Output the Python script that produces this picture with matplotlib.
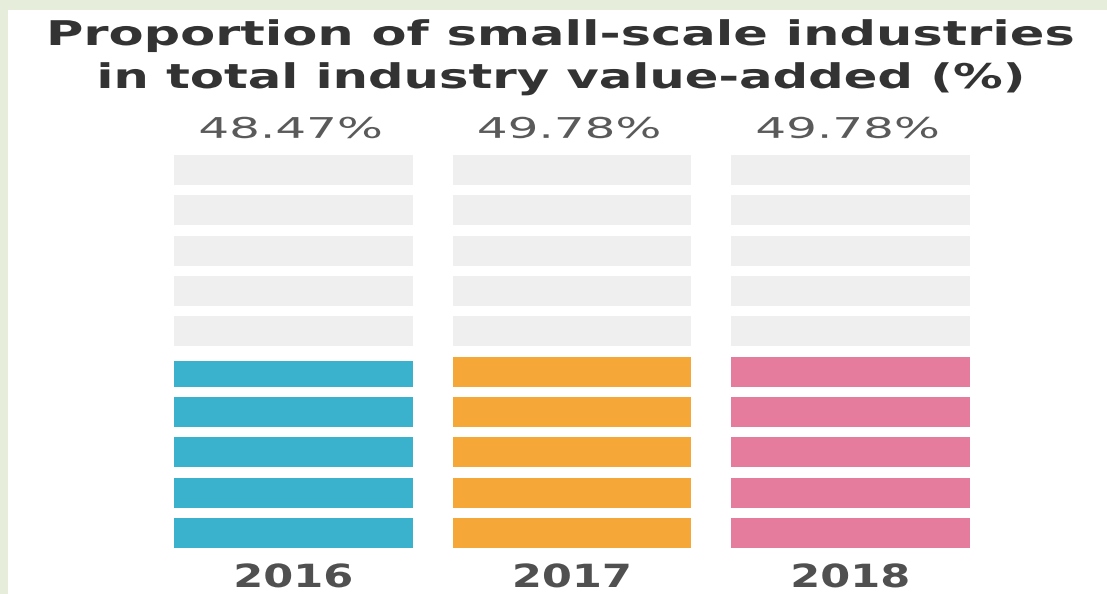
import numpy as np
import matplotlib.pyplot as plt
from matplotlib import patheffects
from matplotlib.patches import Rectangle
from matplotlib.transforms import Affine2D


years = ['2016', '2017', '2018']
shares = [48.47, 49.78, 49.78]
labels = ['48.47%', '49.78%', '49.78%']
colors = ['#3ab1cd', '#f5a838', '#e67c9d']
title_lines = ['Proportion of small-scale industries',
               'in total industry value-added (%)']

n_units = 10          # each block = 10 %
seg_h = 0.745         # filled part of a block, rest is the gap
bar_w = 0.858
empty_color = '#efefef'


class Stretch(patheffects.AbstractPathEffect):
    """widen the glyphs horizontally around the centre of the line"""
    def __init__(self, sx):
        super().__init__()
        self.sx = sx

    def draw_path(self, renderer, gc, tpath, affine, rgbFace=None):
        ext = tpath.get_extents(affine)
        cx = (ext.x0 + ext.x1) / 2
        widen = Affine2D().translate(-cx, 0).scale(self.sx, 1).translate(cx, 0)
        renderer.draw_path(gc, tpath, affine + widen, rgbFace)


W, H = 1107, 594
fig = plt.figure(figsize=(W / 100, H / 100), dpi=100)
fig.patch.set_facecolor('#e6eddb')
# white card, leaving a thin green edge at top and left
fig.patches.append(Rectangle((8 / W, 0), 1, (H - 10) / H, transform=fig.transFigure,
                             facecolor='white', edgecolor='none', zorder=-1))

# one unit on y = 40.33 px, bottom of first block at 46 px
ax = fig.add_axes([0, 46 / H, 1, 403.3 / H], zorder=1)
ax.set_xlim(-293.5 / 278.5, (W - 293.5) / 278.5)
ax.set_ylim(0, 10)
ax.axis('off')

x = np.arange(len(years))
for i, share in enumerate(shares):
    for k in range(n_units):
        fill = min(max(share / 10 - k, 0), 1)
        if fill > 0:
            ax.bar(x[i], fill * seg_h, bottom=k, width=bar_w, color=colors[i],
                   align='center', linewidth=0)
        else:
            ax.bar(x[i], seg_h, bottom=k, width=bar_w, color=empty_color,
                   align='center', linewidth=0)

for i in range(len(years)):
    ax.text(x[i] - 0.01, 10.17, labels[i], ha='center', va='baseline', fontsize=20.5,
            color='#5a5a5a', clip_on=False,
            path_effects=[Stretch(1.7)])
    ax.text(x[i], -46 / 40.33, years[i], ha='center', va='bottom', fontsize=23,
            fontweight='bold', color='#505050', clip_on=False,
            path_effects=[Stretch(1.35)])

fig.text(561 / W, (H - 45) / H, title_lines[0], ha='center', va='baseline',
         fontsize=24.5, fontweight='bold', color='#333333',
         path_effects=[Stretch(1.5)])
fig.text(561 / W, (H - 88) / H, title_lines[1], ha='center', va='baseline',
         fontsize=24.5, fontweight='bold', color='#333333',
         path_effects=[Stretch(1.46)])

fig.savefig('out.png', dpi=100, facecolor=fig.get_facecolor())
